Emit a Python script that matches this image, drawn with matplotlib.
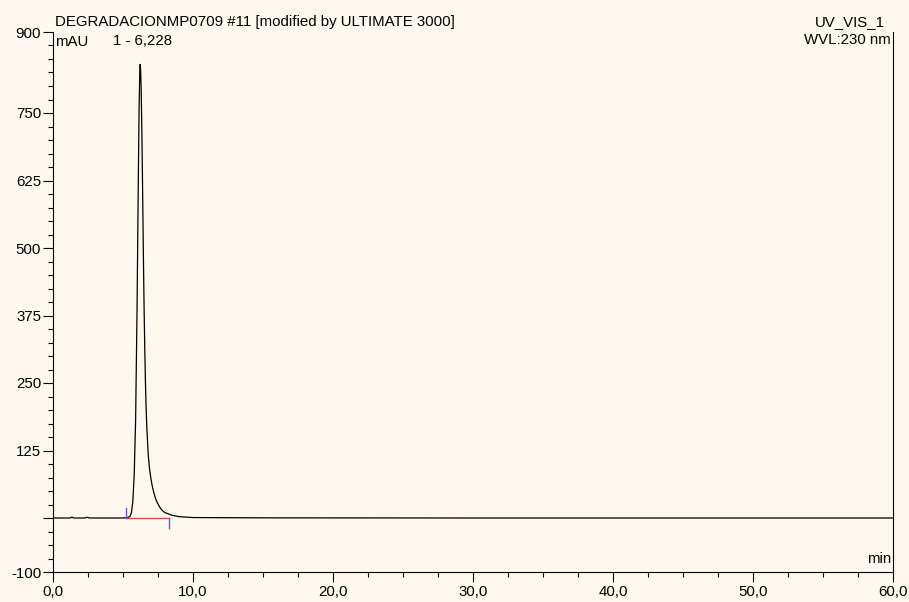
import numpy as np
import matplotlib.pyplot as plt
from matplotlib.ticker import MultipleLocator, FixedLocator

plt.rcParams['font.family'] = ['Liberation Sans', 'DejaVu Sans']

# chromatogram trace (time in min, signal in mAU)
time_min = [0.0, 1.2, 1.35, 1.5, 2.3, 2.43, 2.6, 4.0, 5.0, 5.3, 5.5, 5.6, 5.7,
            5.8, 5.9, 6.0, 6.05, 6.1, 6.15, 6.2, 6.228, 6.26, 6.3, 6.35, 6.4,
            6.45, 6.5, 6.55, 6.6, 6.65, 6.7, 6.8, 6.9, 7.0, 7.1, 7.2, 7.3,
            7.4, 7.6, 7.8, 8.0, 8.5, 9.0, 10.0, 15.0, 30.0, 45.0, 60.0]
signal_mau = [0.0, 0.0, 1.5, 0.0, 0.0, 1.5, 0.0, 0.0, 0.0, 0.5, 3, 10, 30,
              80, 180, 380, 510, 640, 760, 830, 840, 830, 790, 710, 610,
              500, 400, 320, 255, 205, 168, 118, 90, 72, 58, 47, 38,
              31, 21, 14, 10, 5, 2.5, 0.8, 0.3, 0.0, 0.0, 0.0]

peak_time = 6.228
peak_height = 840
integ_start = 5.2
integ_end = 8.3

title = 'DEGRADACIONMP0709 #11 [modified by ULTIMATE 3000]'
channel = 'UV_VIS_1'
wavelength = 'WVL:230 nm'

y_major = [-100, 0, 125, 250, 375, 500, 625, 750, 900]
y_labels = ['-100', '', '125', '250', '375', '500', '625', '750', '900']
x_major = [0, 10, 20, 30, 40, 50, 60]

bg = '#fdf9ef'
fs = 10.8
fig = plt.figure(figsize=(9.09, 6.02), dpi=100, facecolor=bg)
W, H = 909, 602
ax = fig.add_axes([53 / W, 1 - 572 / H, 840 / W, 540 / H], facecolor=bg)

ax.plot(time_min, signal_mau, color='black', lw=0.9)

# integration baseline and delimiters
ax.plot([integ_start, integ_end], [0, 0], color='#ff3b3b', lw=1.0, zorder=3)
ax.plot([integ_start, integ_start], [0, 18], color='#5a5aff', lw=1.0, zorder=3)
ax.plot([integ_end, integ_end], [0, -18], color='#5a5aff', lw=1.0, zorder=3)

ax.annotate('1 - ' + f'{peak_time:.3f}'.replace('.', ','),
            xy=(peak_time, peak_height), xytext=(1.5, 12), textcoords='offset points',
            ha='center', va='bottom', fontsize=fs)

ax.set_xlim(0, 60)
ax.set_ylim(-100, 900)

ax.yaxis.set_major_locator(FixedLocator(y_major))
ax.set_yticklabels(y_labels)
ax.yaxis.set_minor_locator(FixedLocator(
    [v for v in range(-75, 900, 25) if v not in y_major]))
ax.xaxis.set_major_locator(FixedLocator(x_major))
ax.set_xticklabels([f'{v:.1f}'.replace('.', ',') for v in x_major])
ax.xaxis.set_minor_locator(MultipleLocator(2.5))

ax.tick_params(which='major', length=7.5, width=0.8, direction='out',
               labelsize=fs, pad=1)
ax.tick_params(which='minor', length=3.8, width=0.8, direction='out')
ax.tick_params(axis='x', which='major', pad=2)

ax.spines['top'].set_visible(False)
for s in ['left', 'right', 'bottom']:
    ax.spines[s].set_linewidth(0.8)

ax.text(0.002, 0.982, 'mAU', transform=ax.transAxes, ha='left', va='center',
        fontsize=fs)
ax.text(0.998, 0.012, 'min', transform=ax.transAxes, ha='right', va='bottom',
        fontsize=fs)

fig.text(55 / W, 1 - 22 / H, title, ha='left', va='center', fontsize=fs)
fig.text(885 / W, 1 - 22 / H, channel, ha='right', va='center', fontsize=fs)
fig.text(891 / W, 1 - 40 / H, wavelength, ha='right', va='center', fontsize=fs)

fig.savefig('out.png', dpi=100, facecolor=bg)
